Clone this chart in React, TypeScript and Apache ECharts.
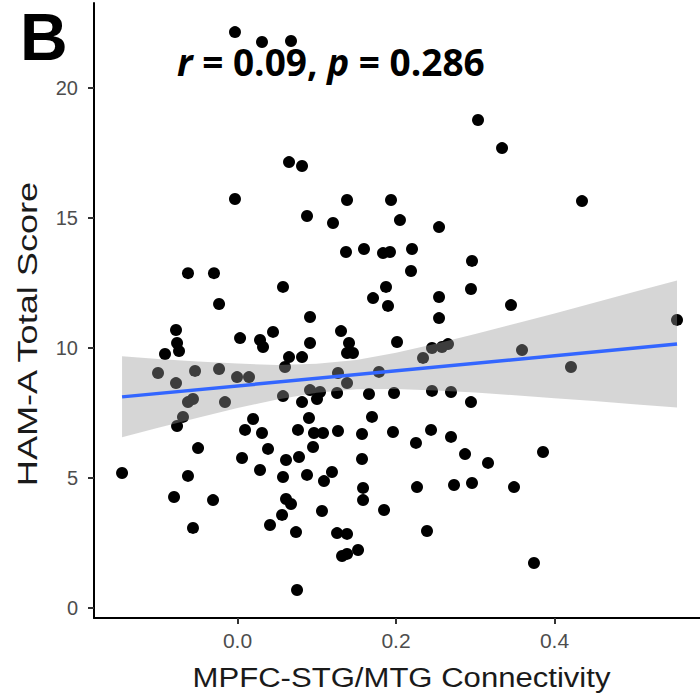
import React, { useEffect, useRef } from "react";
import * as echarts from "echarts";

// Connectivity (x) and HAM-A total score (y) for each subject
const connectivity = [
  -0.0032, 0.0309, 0.0675, 0.065, 0.0814, -0.0032, 0.1382, 0.0877, 0.1205, 0.3035,
  0.3338, 0.1937, 0.205, 0.2543, 0.4347, 0.2202, 0.1836, 0.1924, 0.2189, 0.2959,
  0.1874, 0.2946, 0.2543, 0.1899, 0.3451, 0.2543, 0.5546, 0.2013, 0.2341, 0.2454,
  0.258, 0.2656, 0.359, 0.4208, 0.1975, 0.2454, 0.2694, 0.2946, 0.1962, 0.2442,
  0.2252, 0.2694, 0.2871, 0.3161, 0.3855, 0.2265, 0.2732, 0.2959, 0.3489, 0.1849,
  0.2391, 0.3741, -0.0688, -0.0763, 0.0196, 0.0095, 0.0309, 0.0385, -0.0498, 0.0057,
  0.0763, 0.0902, 0.0965, 0.1079, 0.0953, 0.1268, 0.1697, 0.1571, 0.1571, 0.0612,
  0.0776, 0.0284, 0.0574, 0.0877, 0.1192, 0.1091, -0.1457, -0.0625, -0.0801, -0.0309,
  0.1584, 0.1584, 0.0612, 0.0675, 0.0562, 0.1066, 0.041, 0.0738, -0.0562, 0.1256,
  0.1382, 0.1319, 0.1382, 0.1521, 0.0751, 0.1369, 0.1596, -0.0625, -0.0297, 0.0574,
  0.171, -0.0233, 0.0915, -0.0776, -0.0763, -0.0738, -0.0915, 0.0032, 0.0284, 0.0322,
  0.0448, 0.0915, 0.1306, 0.1407, 0.1457, 0.1382, 0.065, 0.0814, 0.0599, -0.1003,
  -0.0536, -0.0233, -0.0006, 0.0145, -0.0776, -0.0562, -0.0625, -0.0158, 0.0574, 0.0814,
  0.0915, 0.1041, 0.1003, 0.1256, 0.1268, 0.1382, 0.1659, 0.1785,
];
const hamaScore = [
  22.15, 21.77, 21.81, 17.15, 17.0, 15.73, 15.69, 15.08, 14.81, 18.77,
  17.69, 15.69, 14.92, 14.65, 15.65, 13.81, 13.65, 13.69, 12.96, 13.35,
  12.35, 12.27, 11.96, 11.62, 11.65, 11.15, 11.08, 10.23, 9.62, 10.0,
  10.04, 10.15, 9.92, 9.27, 8.27, 8.35, 8.31, 7.92, 6.77, 6.85,
  6.35, 6.58, 5.92, 5.58, 6.0, 4.65, 4.73, 4.81, 4.65, 3.77,
  2.96, 1.73, 7.35, 7.0, 7.27, 6.85, 6.73, 6.12, 6.15, 5.77,
  6.85, 7.31, 6.73, 6.73, 6.19, 6.81, 7.35, 6.69, 5.73, 5.69,
  5.81, 5.31, 5.04, 5.12, 5.23, 4.88, 5.19, 5.08, 4.27, 4.15,
  4.62, 4.15, 4.19, 4.0, 3.58, 3.73, 3.19, 2.92, 3.08, 2.88,
  2.85, 2.0, 2.08, 2.23, 0.69, 13.69, 13.81, 12.88, 12.88, 12.35,
  11.92, 11.69, 11.19, 10.69, 10.19, 9.88, 9.77, 10.38, 10.31, 10.04,
  10.62, 10.19, 10.65, 10.19, 9.81, 9.81, 9.65, 9.65, 9.27, 9.04,
  9.12, 9.19, 8.88, 8.88, 8.65, 8.04, 7.92, 7.92, 8.15, 7.92,
  8.38, 8.31, 8.04, 8.27, 9.04, 8.65, 8.23, 9.08,
];

// Linear fit and its 95% confidence band
const fitX = [-0.1457, 0.5546];
const fitY = [8.12, 10.15];
const bandX = [-0.1457, -0.1, -0.05, 0, 0.05, 0.1, 0.15, 0.2, 0.25, 0.3, 0.35, 0.4, 0.45, 0.5, 0.5546];
const bandLower = [6.57, 6.93, 7.32, 7.69, 8.02, 8.28, 8.41, 8.42, 8.37, 8.29, 8.18, 8.07, 7.96, 7.84, 7.71];
const bandUpper = [9.68, 9.58, 9.48, 9.4, 9.35, 9.39, 9.54, 9.82, 10.16, 10.54, 10.93, 11.33, 11.74, 12.15, 12.6];

const xTicks = [0, 0.2, 0.4];
const yTicks = [0, 5, 10, 15, 20];

const panelLetter = "B";
const xTitle = "MPFC-STG/MTG Connectivity";
const yTitle = "HAM-A Total Score";
const rValue = "0.09";
const pValue = "0.286";

export default function App() {
  const ref = useRef<HTMLDivElement>(null);
  useEffect(() => {
    if (!ref.current) return;
    const chart = echarts.init(ref.current, null, { renderer: "svg" });
    const points = connectivity.map((x, i) => [x, hamaScore[i]]);
    chart.setOption({
      animation: false,
      backgroundColor: "#ffffff",
      grid: { left: 94, right: 0, top: 3, bottom: 76, containLabel: false },
      xAxis: {
        type: "value",
        min: -0.1811,
        max: 0.5836,
        splitLine: { show: false },
        axisLine: { show: true, onZero: false, lineStyle: { color: "#000", width: 2 } },
        axisTick: { show: true, customValues: xTicks, length: 6, lineStyle: { color: "#333", width: 2 } },
        axisLabel: {
          customValues: xTicks,
          formatter: (v: number) => v.toFixed(1),
          color: "#4d4d4d",
          fontSize: 21,
          fontFamily: "Liberation Sans, Arial, sans-serif",
          margin: 12,
        },
      },
      yAxis: {
        type: "value",
        min: -0.385,
        max: 23.27,
        splitLine: { show: false },
        axisLine: { show: true, onZero: false, lineStyle: { color: "#000", width: 2 } },
        axisTick: { show: true, customValues: yTicks, length: 6, lineStyle: { color: "#333", width: 2 } },
        axisLabel: {
          customValues: yTicks,
          color: "#4d4d4d",
          fontSize: 20,
          fontFamily: "Liberation Sans, Arial, sans-serif",
          margin: 16,
        },
      },
      series: [
        {
          type: "scatter",
          data: points,
          symbolSize: 12,
          itemStyle: { color: "#000", opacity: 1 },
          z: 2,
        },
        {
          type: "custom",
          data: [[0, 0]],
          z: 3,
          silent: true,
          renderItem: (params: any, api: any) => {
            const up = bandX.map((x, i) => api.coord([x, bandUpper[i]]));
            const lo = bandX.map((x, i) => api.coord([x, bandLower[i]])).reverse();
            return {
              type: "polygon",
              shape: { points: up.concat(lo) },
              style: { fill: "#999999", opacity: 0.4 },
            };
          },
        },
        {
          type: "line",
          data: fitX.map((x, i) => [x, fitY[i]]),
          symbol: "none",
          lineStyle: { color: "#3366FF", width: 3.5 },
          z: 4,
        },
      ],
      graphic: [
        {
          type: "text",
          left: 20,
          top: 4,
          z: 10,
          style: {
            text: panelLetter,
            font: "bold 66px 'Liberation Sans', Arial, sans-serif",
            fill: "#000",
          },
        },
        {
          type: "text",
          x: 177,
          y: 61,
          z: 10,
          style: {
            text: `{i|r}{b| = ${rValue}, }{i|p}{b| = ${pValue}}`,
            verticalAlign: "middle",
            rich: {
              i: { fontFamily: "Open Sans", fontWeight: "bold", fontStyle: "italic", fontSize: 37, fill: "#000" },
              b: { fontFamily: "Open Sans", fontWeight: "bold", fontSize: 37, fill: "#000" },
            },
          },
        },
        {
          type: "text",
          x: 401.5,
          y: 677,
          scaleX: 1.11,
          z: 10,
          style: {
            text: xTitle,
            font: "28px 'Liberation Sans', Arial, sans-serif",
            fill: "#1a1a1a",
            align: "center",
            verticalAlign: "middle",
          },
        },
        {
          type: "text",
          x: 27,
          y: 334,
          rotation: Math.PI / 2,
          scaleX: 1.29,
          z: 10,
          style: {
            text: yTitle,
            font: "28px 'Liberation Sans', Arial, sans-serif",
            fill: "#1a1a1a",
            align: "center",
            verticalAlign: "middle",
          },
        },
      ],
    });
    return () => chart.dispose();
  }, []);
  return (
    <div
      ref={ref}
      style={{ position: "absolute", left: 0, top: 0, width: 700, height: 694 }}
    />
  );
}
